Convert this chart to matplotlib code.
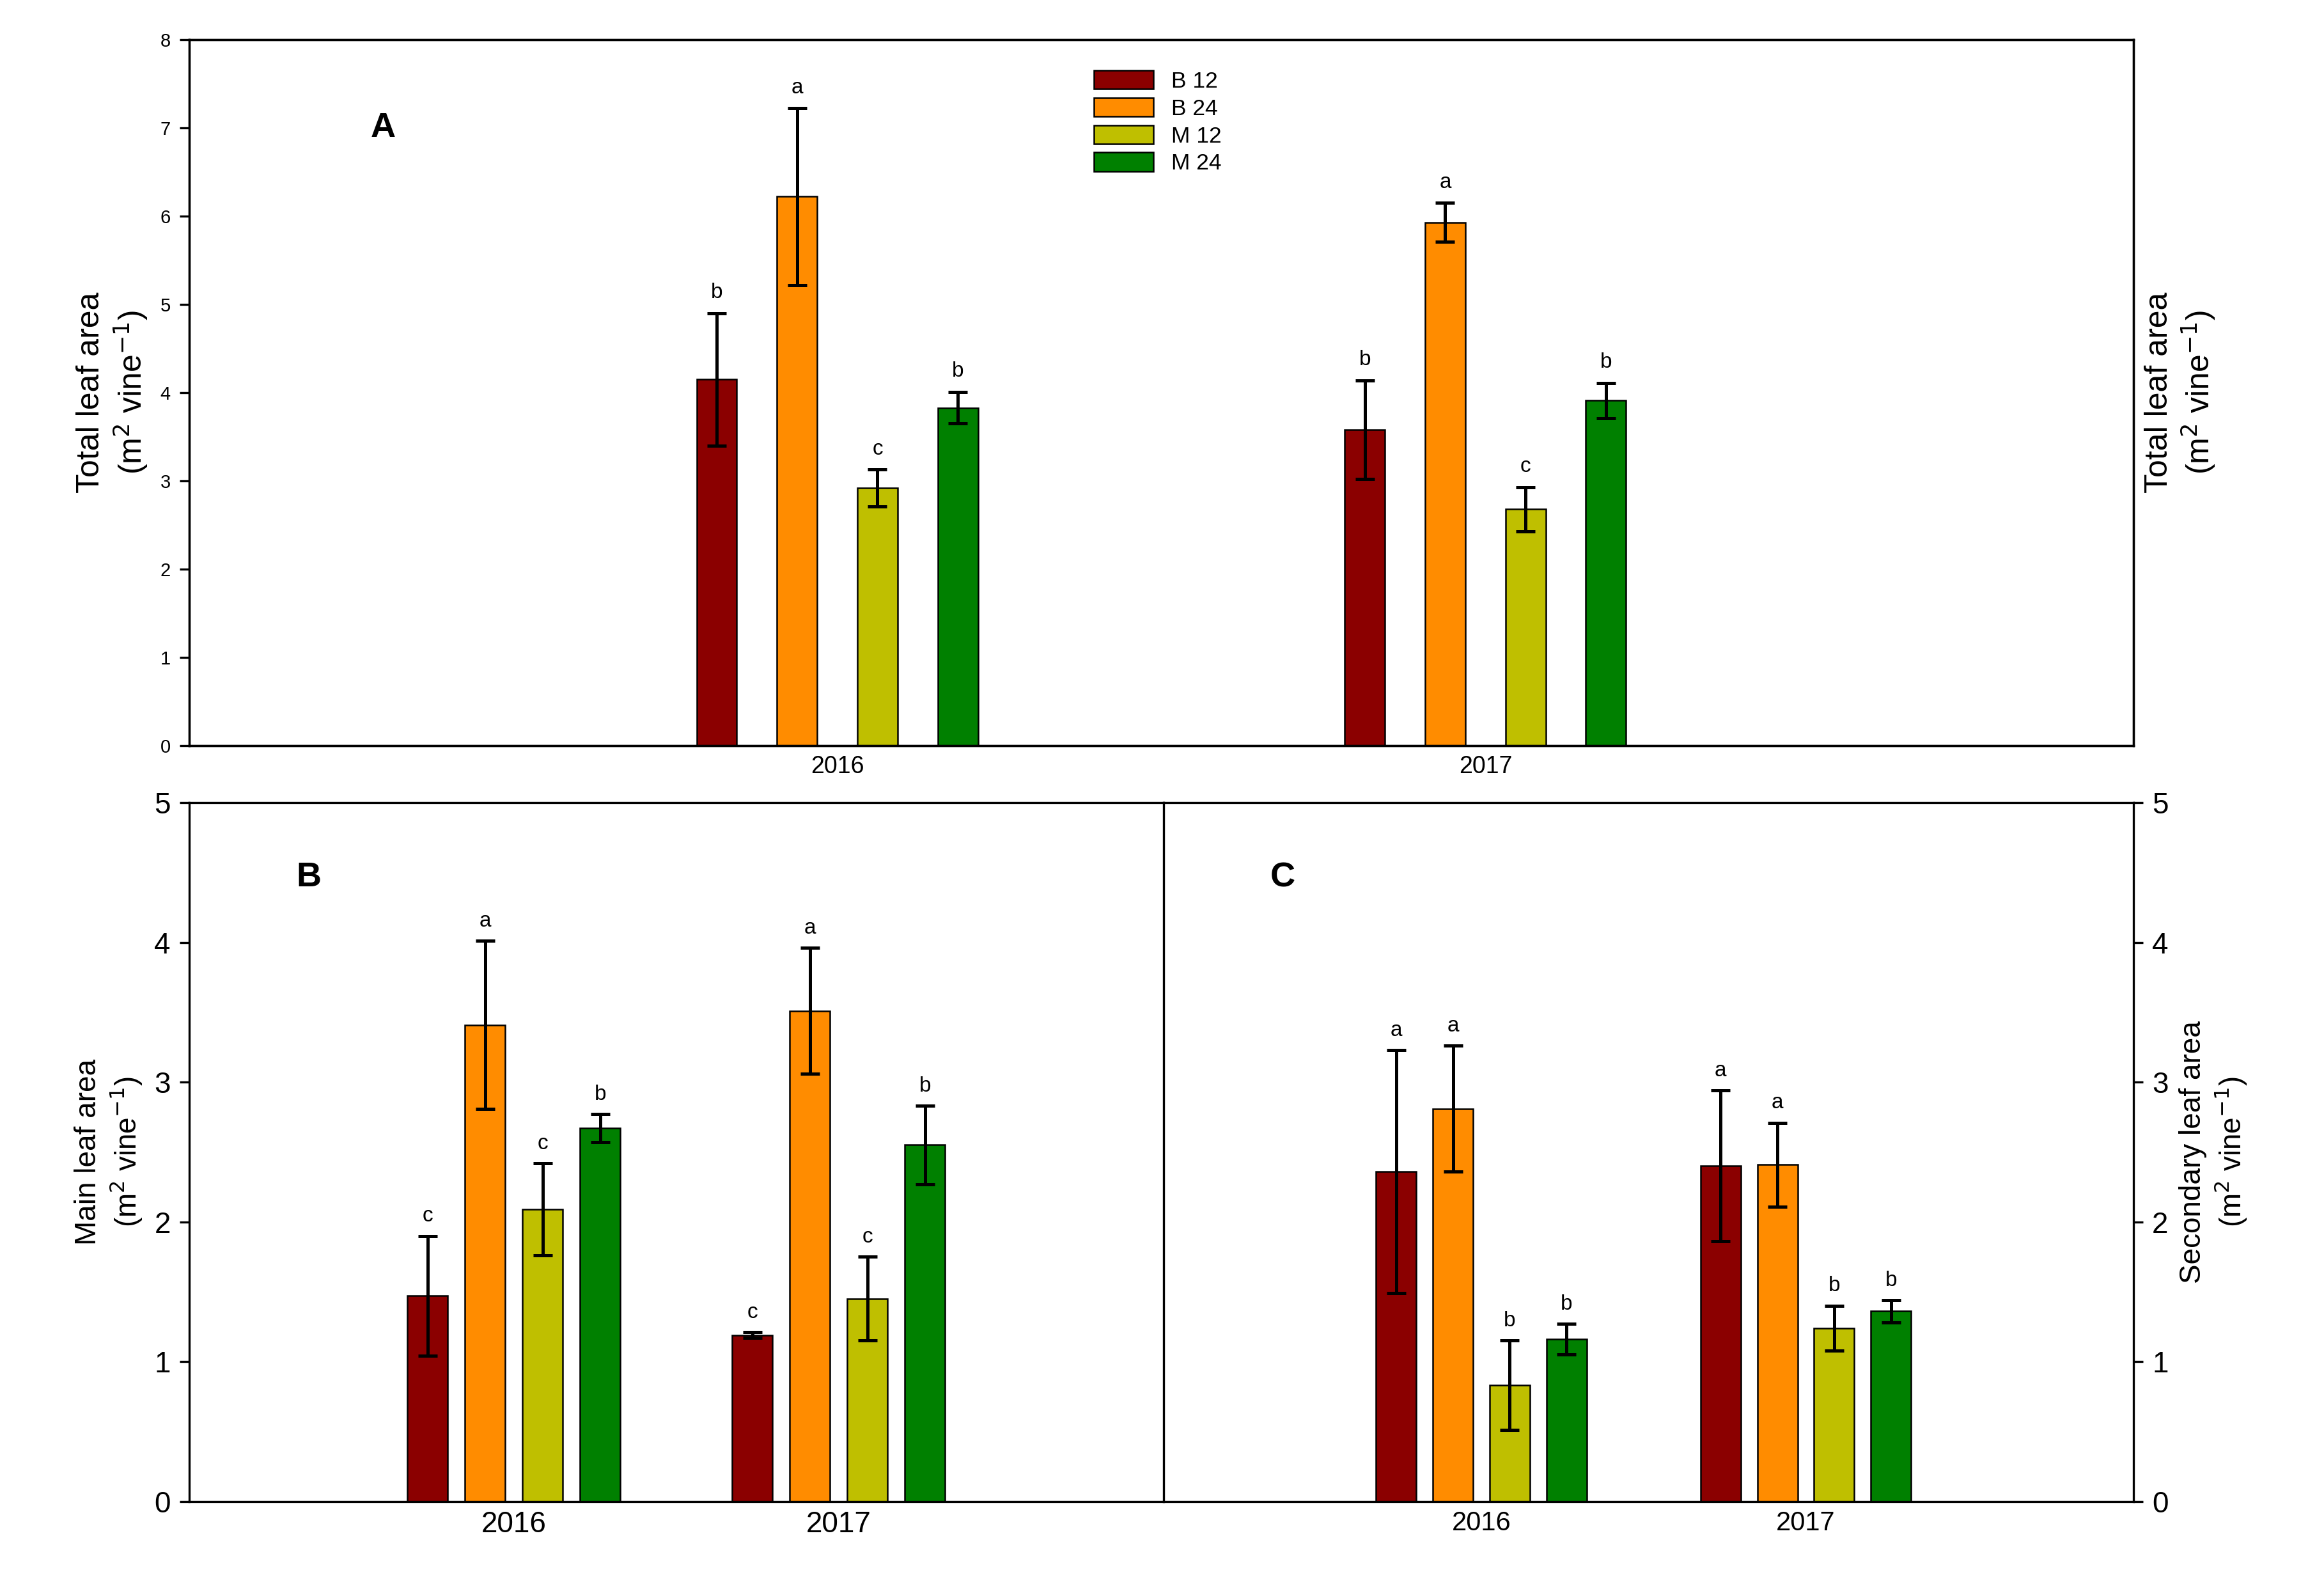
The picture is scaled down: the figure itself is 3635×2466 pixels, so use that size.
import matplotlib
matplotlib.use("Agg")
import matplotlib.pyplot as plt
import numpy as np

plt.rcParams['font.family'] = 'Liberation Sans'

years = ["2016", "2017"]
treatments = ["B 12", "B 24", "M 12", "M 24"]
colors = ["#8B0000", "#FF8C00", "#BFBF00", "#008000"]

total_mean = [[4.15, 6.22, 2.92, 3.83], [3.58, 5.93, 2.68, 3.91]]
total_err = [[0.75, 1.00, 0.21, 0.18], [0.56, 0.22, 0.25, 0.20]]
total_let = [["b", "a", "c", "b"], ["b", "a", "c", "b"]]

main_mean = [[1.47, 3.41, 2.09, 2.67], [1.19, 3.51, 1.45, 2.55]]
main_err = [[0.43, 0.60, 0.33, 0.10], [0.02, 0.45, 0.30, 0.28]]
main_let = [["c", "a", "c", "b"], ["c", "a", "c", "b"]]

sec_mean = [[2.36, 2.81, 0.83, 1.16], [2.40, 2.41, 1.24, 1.36]]
sec_err = [[0.87, 0.45, 0.32, 0.11], [0.54, 0.30, 0.16, 0.08]]
sec_let = [["a", "a", "b", "b"], ["a", "a", "b", "b"]]

fig = plt.figure(figsize=(12.117, 8.22), dpi=300)
axA = fig.add_axes([0.0814, 0.527, 0.8366, 0.448])
axB = fig.add_axes([0.0814, 0.048, 0.4192, 0.443])
axC = fig.add_axes([0.5006, 0.048, 0.4174, 0.443])

def draw(ax, means, errs, lets, offset, width, ymax, lab_off):
    for g in range(2):
        for i in range(4):
            x = g + 1 + (i - 1.5) * offset
            ax.bar(x, means[g][i], width, color=colors[i], edgecolor='black',
                   linewidth=0.6, label=treatments[i] if g == 0 else None)
            ax.errorbar(x, means[g][i], yerr=errs[g][i], color='black',
                        capsize=3.5, elinewidth=1.2, capthick=1.2)
            ax.text(x, means[g][i] + errs[g][i] + lab_off, lets[g][i],
                    ha='center', va='bottom', fontsize=8)
    ax.set_xlim(0, 3)
    ax.set_ylim(0, ymax)
    ax.set_xticks([1, 2])
    ax.tick_params(axis='x', length=0)
    ax.tick_params(axis='y', direction='out', labelsize=7)

draw(axA, total_mean, total_err, total_let, 0.124, 0.062, 8, 0.12)
axA.set_xticklabels(years, fontsize=9)
axA.tick_params(axis='y', right=True, labelright=True)
axA.set_ylabel("Total leaf area\n(m$^2$ vine$^{-1}$)", fontsize=12)
axA2 = axA.twinx()
axA2.set_ylim(0, 8)
axA2.set_yticks([])
axA2.set_ylabel("Total leaf area\n(m$^2$ vine$^{-1}$)", fontsize=12)
axA.text(0.28, 6.9, "A", fontsize=13, fontweight='bold')
axA.legend(loc='upper left', bbox_to_anchor=(0.455, 0.985), frameon=False,
           fontsize=8.5, handlelength=2.6, handleheight=0.9, labelspacing=0.25)

draw(axB, main_mean, main_err, main_let, 0.177, 0.124, 5, 0.07)
axB.set_xticklabels(years, fontsize=11)
axB.set_ylabel("Main leaf area\n(m$^2$ vine$^{-1}$)", fontsize=11)
axB.tick_params(axis='y', labelsize=11)
axB.text(0.33, 4.4, "B", fontsize=13, fontweight='bold')
axB.spines['right'].set_visible(False)

draw(axC, sec_mean, sec_err, sec_let, 0.175, 0.124, 5, 0.07)
axC.set_xlim(0.02, 3.01)
axC.set_xticklabels(years, fontsize=10)
axC.yaxis.tick_right()
axC.yaxis.set_label_position('right')
axC.tick_params(axis='y', labelsize=11)
axC.set_ylabel("Secondary leaf area\n(m$^2$ vine$^{-1}$)", fontsize=11)
axC.text(0.35, 4.4, "C", fontsize=13, fontweight='bold')
axC.spines['left'].set_linewidth(0.8)

fig.savefig("out.png", dpi=300)
